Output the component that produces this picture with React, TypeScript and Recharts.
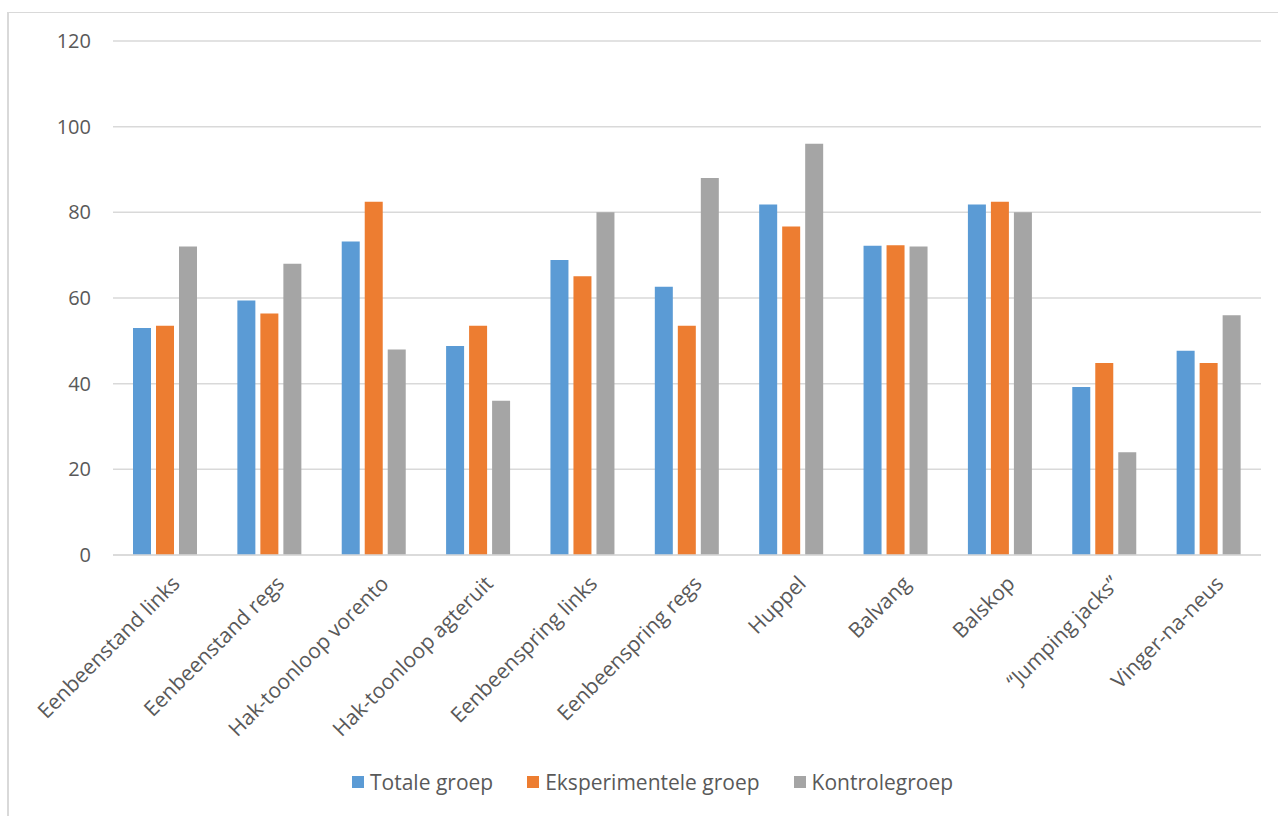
import { BarChart, Bar, XAxis, YAxis, CartesianGrid } from "recharts";

const categories = [
  "Eenbeenstand links",
  "Eenbeenstand regs",
  "Hak-toonloop vorento",
  "Hak-toonloop agteruit",
  "Eenbeenspring links",
  "Eenbeenspring regs",
  "Huppel",
  "Balvang",
  "Balskop",
  "\u201cJumping jacks\u201d",
  "Vinger-na-neus",
];

const totale = [53, 59.4, 73.2, 48.8, 68.9, 62.6, 81.8, 72.2, 81.8, 39.2, 47.7];
const eksperimentele = [53.5, 56.4, 82.5, 53.5, 65.1, 53.5, 76.7, 72.3, 82.5, 44.8, 44.8];
const kontrole = [72, 68, 48, 36, 80, 88, 96, 72, 80, 24, 56];

const yTicks = [0, 20, 40, 60, 80, 100, 120];

const series = [
  { key: "totale", name: "Totale groep", color: "#5B9BD5" },
  { key: "eksperimentele", name: "Eksperimentele groep", color: "#ED7D31" },
  { key: "kontrole", name: "Kontrolegroep", color: "#A5A5A5" },
];

const data = categories.map((name, i) => ({
  name,
  totale: totale[i],
  eksperimentele: eksperimentele[i],
  kontrole: kontrole[i],
}));

const FONT = "'Open Sans', sans-serif";

function RotatedTick(props: any) {
  const { x, y, payload } = props;
  return (
    <text
      transform={`translate(${x + 16},${y + 30}) rotate(-45)`}
      textAnchor="end"
      fill="#595959"
      fontSize={21}
      fontFamily={FONT}
    >
      {payload.value}
    </text>
  );
}

export default function App() {
  return (
    <div style={{ position: "absolute", left: 0, top: 0, width: 1278, height: 816, background: "#fff", overflow: "hidden" }}>
      <div
        style={{
          position: "absolute",
          left: 7,
          top: 12,
          width: 1300,
          height: 820,
          border: "1px solid #d9d9d9",
          borderLeftWidth: 2,
        }}
      />
      <div style={{ position: "absolute", left: 0, top: 0 }}>
        <BarChart
          width={1278}
          height={816}
          data={data}
          margin={{ top: 41, right: 17, left: 0, bottom: 61 }}
          barSize={18}
          barGap={5}
        >
          <CartesianGrid vertical={false} stroke="#d9d9d9" strokeWidth={1.5} />
          <XAxis
            dataKey="name"
            interval={0}
            height={200}
            axisLine={{ stroke: "#d9d9d9", strokeWidth: 1.5 }}
            tickLine={false}
            tickSize={0}
            tickMargin={0}
            tick={<RotatedTick />}
          />
          <YAxis
            width={113}
            domain={[0, 120]}
            ticks={yTicks}
            axisLine={false}
            tickLine={false}
            tickSize={0}
            tickMargin={22}
            tick={{ fill: "#595959", fontSize: 20, fontFamily: FONT }}
          />
          {series.map((s) => (
            <Bar key={s.key} dataKey={s.key} name={s.name} fill={s.color} isAnimationActive={false} />
          ))}
        </BarChart>
      </div>
      <div
        style={{
          position: "absolute",
          left: 352,
          top: 768,
          display: "flex",
          alignItems: "center",
          fontFamily: FONT,
          fontSize: 21,
          color: "#595959",
        }}
      >
        {series.map((s) => (
          <div key={s.key} style={{ display: "flex", alignItems: "center", marginRight: 34 }}>
            <div style={{ width: 12, height: 12, background: s.color, marginRight: 6 }} />
            <span>{s.name}</span>
          </div>
        ))}
      </div>
    </div>
  );
}
